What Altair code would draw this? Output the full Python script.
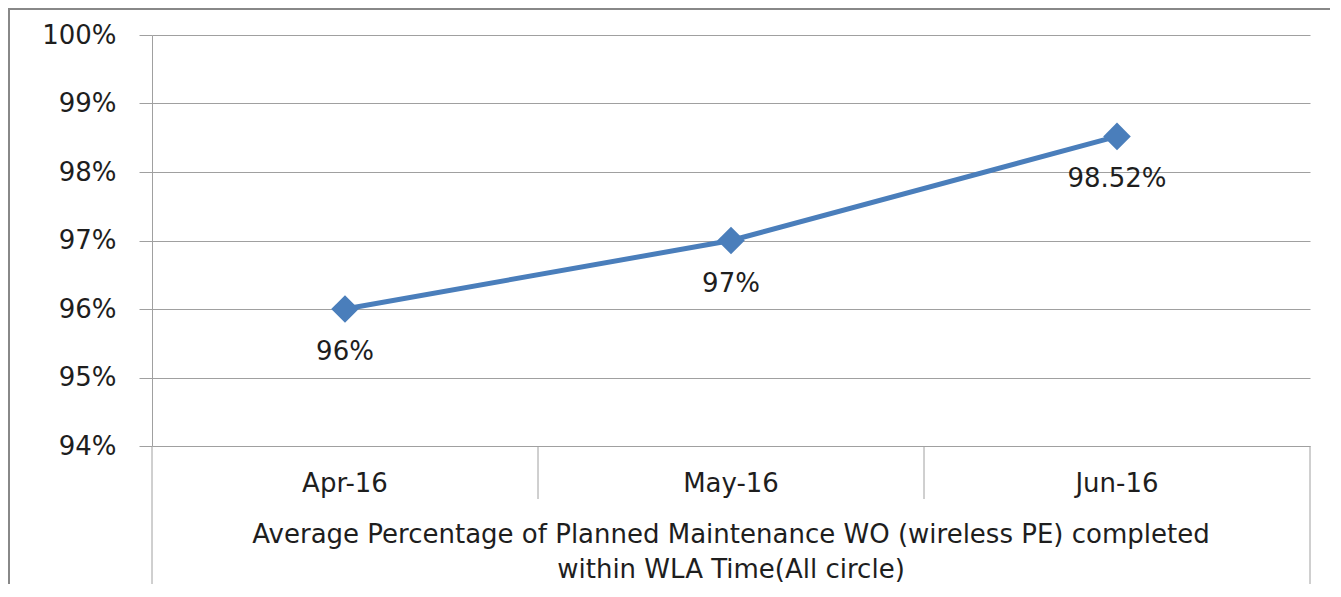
import altair as alt
import pandas as pd

months = ["Apr-16", "May-16", "Jun-16"]
values = [0.96, 0.97, 0.9852]
value_labels = ["96%", "97%", "98.52%"]
y_ticks = [0.94, 0.95, 0.96, 0.97, 0.98, 0.99, 1.00]
group_label = "Average Percentage of Planned Maintenance WO (wireless PE) completed\nwithin WLA Time(All circle)"

df = pd.DataFrame({"month": months, "value": values, "label": value_labels})

W, H = 1158, 411
FONT = "DejaVu Sans"
FS = 26
GRID = "#a0a0a0"
TXT = "#1e1e1e"
BLUE = "#4a7ebb"

xscale = alt.Scale(type="band", domain=months, paddingInner=0, paddingOuter=0)
xaxis = alt.Axis(title=None, labelAngle=0, ticks=False, domain=False, grid=False,
                 labelFont=FONT, labelFontSize=FS, labelColor=TXT,
                 labelPadding=37, labelBaseline="middle")

x_main = alt.X("month:N", sort=months, scale=xscale, axis=xaxis)
y_main = alt.Y(
    "value:Q", scale=alt.Scale(domain=[0.94, 1.0], nice=False, zero=False),
    axis=alt.Axis(title=None, values=y_ticks, format=".0%", tickSize=13,
                  tickColor=GRID, domainColor=GRID, gridColor=GRID, gridOpacity=1,
                  labelPadding=23, labelFont=FONT, labelFontSize=FS, labelColor=TXT))

base = alt.Chart(df).encode(x=x_main, y=y_main)
line = base.mark_line(color=BLUE, strokeWidth=5)
pts = base.mark_point(shape="diamond", filled=True, size=760, color=BLUE, opacity=1)
labels = base.mark_text(dy=43, font=FONT, fontSize=FS, color=TXT, baseline="middle").encode(text="label:N")

inner_ticks = alt.Chart(pd.DataFrame({"month": months[1:]})).mark_rule(color=GRID, strokeWidth=1).encode(
    x=alt.X("month:N", bandPosition=0, scale=xscale, axis=xaxis),
    y=alt.value(H), y2=alt.value(H + 53))
left_edge = alt.Chart(pd.DataFrame({"month": months[:1]})).mark_rule(color=GRID, strokeWidth=1).encode(
    x=alt.X("month:N", bandPosition=0, scale=xscale, axis=xaxis),
    y=alt.value(H), y2=alt.value(H + 141))
right_edge = alt.Chart(pd.DataFrame({"month": months[-1:]})).mark_rule(color=GRID, strokeWidth=1).encode(
    x=alt.X("month:N", bandPosition=1, scale=xscale, axis=xaxis),
    y=alt.value(H), y2=alt.value(H + 141))

group = alt.Chart(pd.DataFrame({"t": [group_label]})).mark_text(
    font=FONT, fontSize=FS, color=TXT, baseline="middle", align="center",
    lineBreak="\n", lineHeight=35).encode(
    text="t:N", x=alt.value(W / 2), y=alt.value(500))

one = pd.DataFrame({"a": [0]})
frame_left = alt.Chart(one).mark_rule(color="#888888", strokeWidth=2).encode(
    x=alt.value(-143), y=alt.value(-27), y2=alt.value(H + 150))
frame_top = alt.Chart(one).mark_rule(color="#888888", strokeWidth=2).encode(
    x=alt.value(-144), x2=alt.value(W + 40), y=alt.value(-26))

chart = alt.layer(
    frame_left, frame_top, inner_ticks, left_edge, right_edge, group, line, pts, labels
).properties(
    width=W, height=H,
    background="white",
    padding={"left": 144, "top": 27, "right": 20, "bottom": 138},
    autosize=alt.AutoSizeParams(type="none"),
).configure_view(strokeWidth=0, strokeOpacity=0)

chart.save("out.html", embed_options={"renderer": "svg", "actions": False})
